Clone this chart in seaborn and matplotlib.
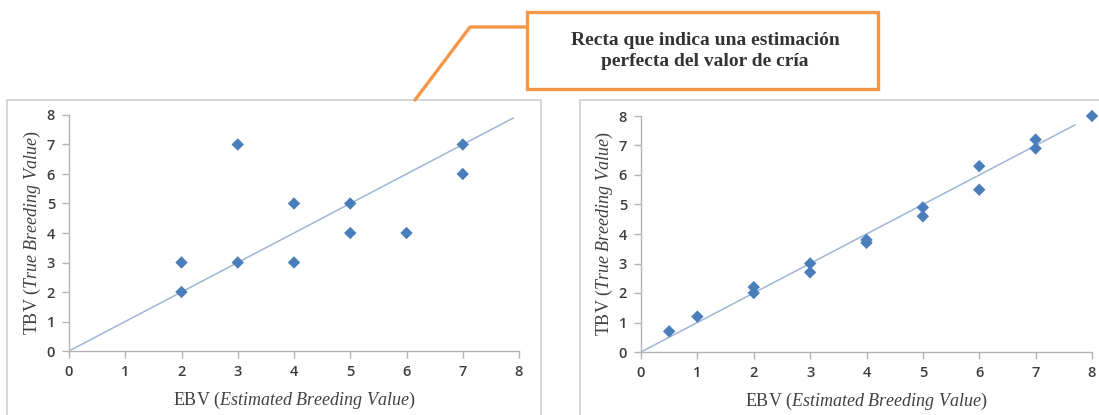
import matplotlib
matplotlib.use("Agg")
import matplotlib.pyplot as plt
from matplotlib.patches import Rectangle
from matplotlib.lines import Line2D
import seaborn as sns
import pandas as pd

# ---- data ----
left_ebv = [2, 2, 3, 3, 4, 4, 5, 5, 6, 7, 7]
left_tbv = [2, 3, 3, 7, 3, 5, 4, 5, 4, 6, 7]
right_ebv = [0.5, 1, 2, 2, 3, 3, 4, 4, 5, 5, 6, 6, 7, 7, 8]
right_tbv = [0.7, 1.2, 2.0, 2.2, 2.7, 3.0, 3.7, 3.8, 4.6, 4.9, 5.5, 6.3, 6.9, 7.2, 8.0]
ticks = [0, 1, 2, 3, 4, 5, 6, 7, 8]
left_line = [0, 7.9]
right_line = [0, 7.7]
xlabel = r"EBV ($\mathit{Estimated\ Breeding\ Value}$)"
ylabel = r"TBV ($\mathit{True\ Breeding\ Value}$)"
callout = "Recta que indica una estimación\nperfecta del valor de cría"

sns.set_theme(style="white")
plt.rcParams["font.family"] = ["Open Sans", "DejaVu Sans"]
plt.rcParams["mathtext.fontset"] = "custom"
plt.rcParams["mathtext.rm"] = "Liberation Serif"
plt.rcParams["mathtext.it"] = "Liberation Serif:italic"

W, H = 1099, 415
fig = plt.figure(figsize=(W / 100, H / 100), dpi=100)

def fx(px):
    return px / W

def fy(py):
    return 1 - py / H

# panel frames
fig.patches.append(Rectangle((fx(7), fy(430)), fx(541) - fx(7), fy(100) - fy(430),
                             transform=fig.transFigure, fill=False, edgecolor="#cfcfcf", lw=1.2))
fig.patches.append(Rectangle((fx(580), fy(430)), fx(1110) - fx(580), fy(100) - fy(430),
                             transform=fig.transFigure, fill=False, edgecolor="#cfcfcf", lw=1.2))

marker_color = "#4a7ebb"
line_color = "#9fb5d3"
spine_color = "#b3b3b3"

def setup(ax, ebv, tbv, line_end):
    df = pd.DataFrame({"EBV": ebv, "TBV": tbv})
    sns.lineplot(x=line_end, y=line_end, ax=ax, color=line_color, lw=1.1, zorder=2)
    sns.scatterplot(data=df, x="EBV", y="TBV", ax=ax, marker="D", s=40,
                    color=marker_color, edgecolor="none", zorder=3, clip_on=False)
    ax.set_xlim(0, 8)
    ax.set_ylim(0, 8)
    ax.set_xticks(ticks)
    ax.set_yticks(ticks)
    for s in ["top", "right"]:
        ax.spines[s].set_visible(False)
    for s in ["left", "bottom"]:
        ax.spines[s].set_color(spine_color)
        ax.spines[s].set_linewidth(1.0)
    ax.tick_params(axis="both", which="major", direction="out", length=5, width=1.0,
                   color=spine_color, labelsize=10.5, labelcolor="#3d3d3d", pad=5,
                   left=True, bottom=True)
    for lab in ax.get_xticklabels() + ax.get_yticklabels():
        lab.set_fontweight("semibold")
    ax.set_xlabel(xlabel, family="Liberation Serif", fontsize=13, color="#404040", labelpad=8)
    ax.set_ylabel(ylabel, family="Liberation Serif", fontsize=13, color="#404040", labelpad=3)
    ax.set_facecolor("none")

ax1 = fig.add_axes([fx(69), fy(351), fx(519) - fx(69), fy(115) - fy(351)])
setup(ax1, left_ebv, left_tbv, left_line)
ax2 = fig.add_axes([fx(641), fy(352), fx(1092) - fx(641), fy(116) - fy(352)])
setup(ax2, right_ebv, right_tbv, right_line)

# callout box
orange = "#f79646"
fig.patches.append(Rectangle((fx(527), fy(89)), fx(878) - fx(527), fy(12) - fy(89),
                             transform=fig.transFigure, fill=True, facecolor="white",
                             edgecolor=orange, lw=2.4, zorder=5))
fig.lines.append(Line2D([fx(527), fx(470), fx(415)], [fy(27), fy(27), fy(100)],
                        transform=fig.transFigure, color=orange, lw=2.4, zorder=4))
fig.text(fx(705), fy(51), callout, ha="center", va="center", family="Liberation Serif",
         fontweight="bold", fontsize=14, color="#333333", linespacing=1.25, zorder=6)

fig.savefig("out.png", dpi=100)
